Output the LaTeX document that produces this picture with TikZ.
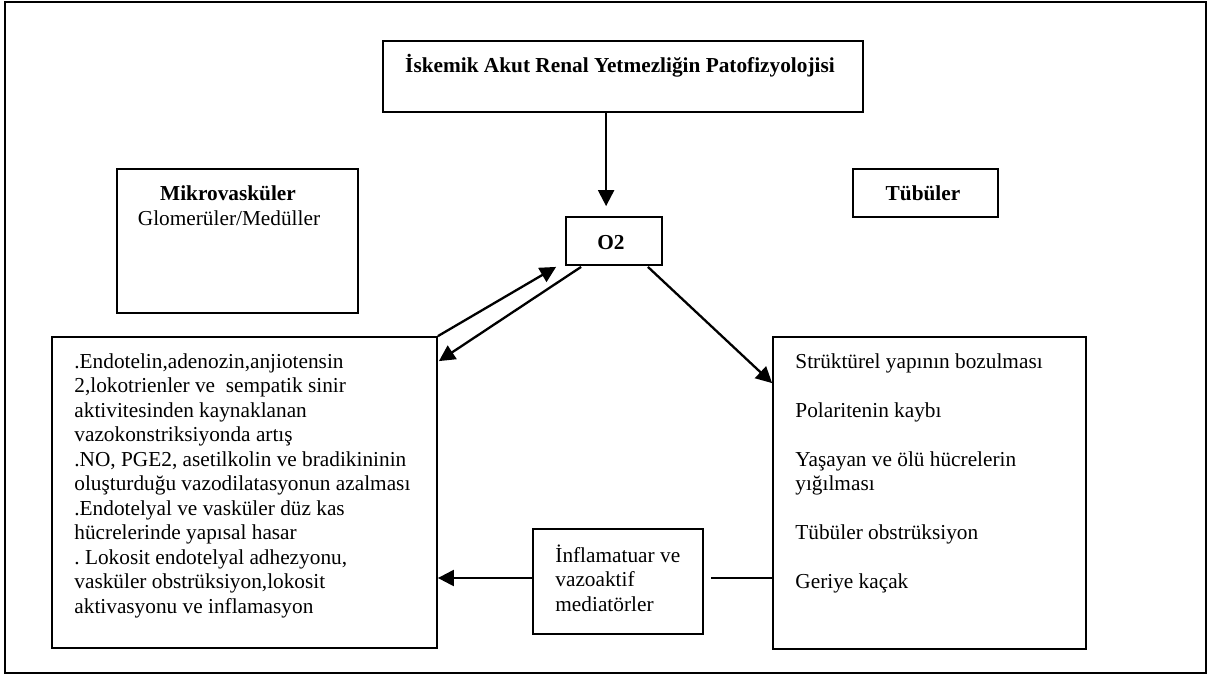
\documentclass[tikz,border=0pt]{standalone}
\usepackage{fontspec}
\setmainfont{Liberation Serif}
\frenchspacing
\usetikzlibrary{fit,calc,arrows.meta}
\begin{document}
\begin{tikzpicture}[x=0.5pt,y=-0.5pt,
  box/.style={draw, line width=0.9pt, inner sep=0pt},
  txt/.style={inner sep=0pt, font=\fontsize{10.65pt}{12.25pt}\selectfont},
  arr/.style={line width=1.15pt, -{Triangle[length=8pt,width=8pt]}},
  ln/.style={line width=1.15pt}]
\useasboundingbox (0,0) rectangle (1208,675);
\node[box, fit={(5,2) (1206,673)}] (frame) {};
% boxes
\node[box, fit={(383,41) (863,112)}] (title) {};
\node[box, fit={(566,217) (662,265)}] (o2) {};
\node[box, fit={(117,169) (358,313)}] (mikro) {};
\node[box, fit={(853,169) (998,217)}] (tub) {};
\node[box, fit={(52,337) (437,648)}] (lbox) {};
\node[box, fit={(773,337) (1086,649)}] (rbox) {};
\node[box, fit={(533,529) (703,634)}] (mid) {};
% texts
\node[txt, anchor=base] (titletxt) at (620,72) {\bfseries İskemik Akut Renal Yetmezliğin Patofizyolojisi};
\node[txt, anchor=base] (o2txt) at (611,249) {\bfseries O2};
\node[txt, anchor=base] (mikrotxt) at (228,200) {\bfseries Mikrovasküler};
\node[txt, anchor=base] (glomtxt) at (229,225) {Glomerüler/Medüller};
\node[txt, anchor=base] (tubtxt) at (923,200) {\bfseries Tübüler};
\node[txt, anchor=base west] (ltxt) at (74,368) {\parbox[t]{220pt}{%
.Endotelin,adenozin,anjiotensin\\
2,lokotrienler ve\ \ sempatik sinir\\
aktivitesinden kaynaklanan\\
vazokonstriksiyonda artış\\
.NO, PGE2, asetilkolin ve bradikininin\\
oluşturduğu vazodilatasyonun azalması\\
.Endotelyal ve vasküler düz kas\\
hücrelerinde yapısal hasar\\
. Lokosit endotelyal adhezyonu,\\
vasküler obstrüksiyon,lokosit\\
aktivasyonu ve inflamasyon}};
\node[txt, anchor=base west] (rtxt) at (795,368) {\parbox[t]{150pt}{%
Strüktürel yapının bozulması\\[12.25pt]
Polaritenin kaybı\\[12.25pt]
Yaşayan ve ölü hücrelerin\\
yığılması\\[12.25pt]
Tübüler obstrüksiyon\\[12.25pt]
Geriye kaçak}};
\node[txt, anchor=base west] (midtxt) at (555,562) {\parbox[t]{80pt}{%
İnflamatuar ve\\
vazoaktif\\
mediatörler}};
% connectors
\coordinate (yline) at (0,578);
\draw[arr] ($(title.south west)+(224,0)$) -- ($(o2.north west)+(41,-10)$);
\draw[arr] (lbox.north east) -- ($(o2.south west)+(-9,1)$);
\draw[arr] ($(o2.south west)+(16,1)$) -- ($(lbox.north east)+(1,25)$);
\draw[arr] ($(o2.south east)+(-15,1)$) -- ($(rbox.north west)+(0,47)$);
\draw[arr] (mid.west |- yline) -- (lbox.east |- yline);
\draw[ln] (rbox.west |- yline) -- ($(mid.east |- yline)+(7,0)$);
\end{tikzpicture}
\end{document}
